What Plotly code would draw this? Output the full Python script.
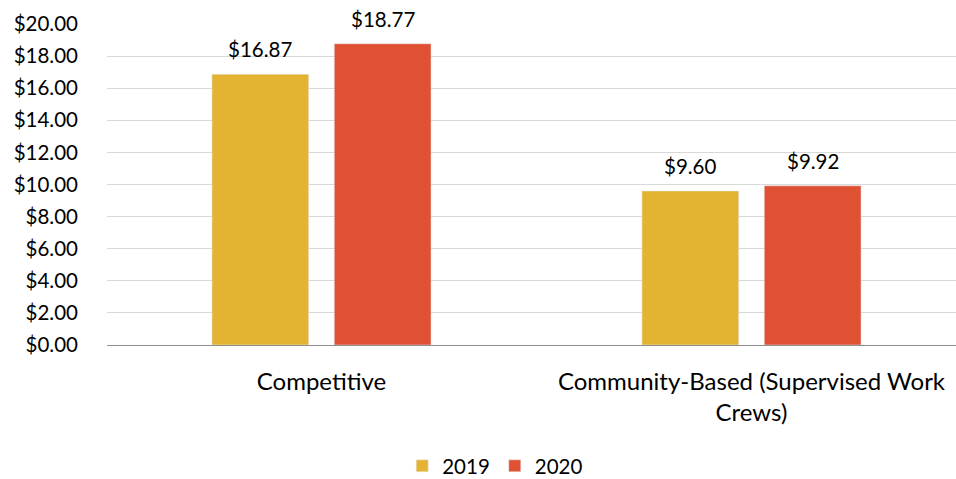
import plotly.graph_objects as go

categories = ["Competitive", "Community-Based (Supervised Work<br>Crews)"]
wages_2019 = [16.87, 9.60]
wages_2020 = [18.77, 9.92]
tick_values = [0, 2, 4, 6, 8, 10, 12, 14, 16, 18, 20]
tick_labels = ["$%.2f" % v for v in tick_values]

FONT = "Lato, 'Open Sans', sans-serif"
BARGAP = 0.431
BARGROUPGAP = 0.209

fig = go.Figure()
fig.add_trace(go.Bar(name="2019", x=categories, y=wages_2019,
                     marker=dict(color="#E5B332")))
fig.add_trace(go.Bar(name="2020", x=categories, y=wages_2020,
                     marker=dict(color="#E05033")))

# value labels above each bar, placed at the centre of its slot in the group
slot = (1 - BARGAP) / 2
for series, shift in ((wages_2019, -slot / 2), (wages_2020, slot / 2)):
    for i, v in enumerate(series):
        fig.add_annotation(x=i + shift, y=v, text="$%.2f" % v, showarrow=False,
                           xanchor="center", yanchor="bottom", yshift=11,
                           font=dict(size=20.5, color="#000000", family=FONT))

fig.update_layout(
    width=956, height=479,
    margin=dict(l=107, r=0, t=24, b=134),
    paper_bgcolor="white", plot_bgcolor="white",
    font=dict(family=FONT, size=20, color="#000000"),
    barmode="group", bargap=BARGAP, bargroupgap=BARGROUPGAP,
    showlegend=True,
    legend=dict(orientation="h", xref="container", yref="container",
                x=0.518, xanchor="center", y=0.0271, yanchor="middle",
                font=dict(size=20.5), traceorder="normal"),
    xaxis=dict(range=[-0.4988, 1.4756], showgrid=False, showline=True, automargin=False,
               linecolor="#8F8F8F", linewidth=1, ticks="", ticklabelstandoff=15,
               tickfont=dict(size=24)),
    yaxis=dict(range=[0, 20], tickvals=tick_values, ticktext=tick_labels, automargin=False,
               showgrid=True, gridcolor="#D9D9D9", gridwidth=1.3,
               zeroline=False, showline=False, ticks="",
               ticklabelstandoff=28, tickfont=dict(size=20.5)),
)

fig.write_html("out.html")
